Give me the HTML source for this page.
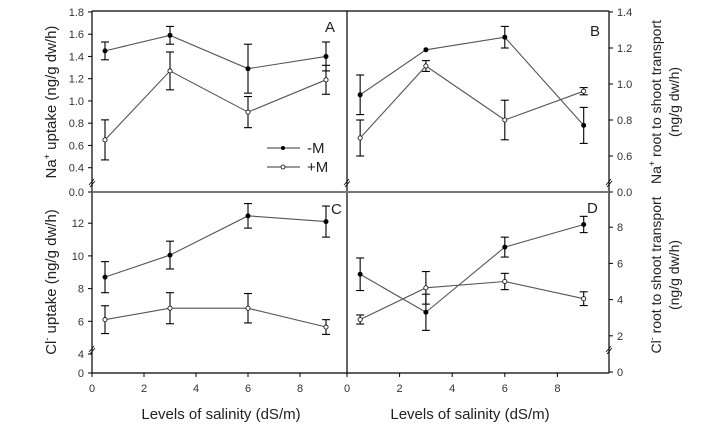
<!DOCTYPE html>
<html><head><meta charset="utf-8"><style>
html,body{margin:0;padding:0;background:#fff;}
svg{display:block;font-family:"Liberation Sans",Arial,sans-serif;}
</style></head><body>
<svg id="c" width="701" height="442" viewBox="0 0 701 442" xmlns="http://www.w3.org/2000/svg"></svg>
<script>
const salinity=[0.5,3,6,9];
const aMinus=[1.45,1.59,1.29,1.40], aMinusErr=[0.08,0.08,0.22,0.13];
const aPlus=[0.65,1.27,0.90,1.19], aPlusErr=[0.18,0.17,0.14,0.13];
const bMinus=[0.94,1.19,1.26,0.77], bMinusErr=[0.11,0,0.06,0.10];
const bPlus=[0.70,1.10,0.80,0.96], bPlusErr=[0.10,0.03,0.11,0.02];
const cMinus=[8.7,10.05,12.45,12.1], cMinusErr=[0.95,0.85,0.75,0.95];
const cPlus=[6.1,6.8,6.8,5.65], cPlusErr=[0.85,0.95,0.9,0.45];
const dMinus=[5.4,3.3,6.9,8.15], dMinusErr=[0.9,1.0,0.55,0.45];
const dPlus=[2.9,4.65,5.0,4.05], dPlusErr=[0.25,0.9,0.45,0.38];
const xTicks=[0,2,4,6,8];
const aTicks=[0.4,0.6,0.8,1.0,1.2,1.4,1.6,1.8];
const bTicks=[0.6,0.8,1.0,1.2,1.4];
const cTicks=[4,6,8,10,12];
const dTicks=[0,2,4,6,8];

const svg=document.getElementById('c');
const NS='http://www.w3.org/2000/svg';
function mk(tag,attrs,parent){const e=document.createElementNS(NS,tag);for(const k in attrs)e.setAttribute(k,attrs[k]);(parent||svg).appendChild(e);return e;}
function txt(s,attrs,parent){const e=mk('text',attrs,parent);e.textContent=s;return e;}

const xL=v=>92+v*26;
const xR=v=>347+v*26.3;
const yA=v=>167.7-(v-0.4)/0.2*22.25;
const yB=v=>156-(v-0.6)/0.2*36;
const yC=v=>354-(v-4)/2*32.7;
const yD=v=>372-v/2*36.2;

const fr=mk('g',{});


mk('line',{x1:92,y1:11,x2:609,y2:11,stroke:'#000','stroke-width':1.2},fr);
mk('line',{x1:92,y1:11,x2:92,y2:373,stroke:'#000','stroke-width':1.2},fr);
mk('line',{x1:609,y1:11,x2:609,y2:373,stroke:'#000','stroke-width':1.2},fr);
mk('line',{x1:347,y1:11,x2:347,y2:373,stroke:'#000','stroke-width':1.2},fr);
mk('line',{x1:92,y1:373,x2:609,y2:373,stroke:'#000','stroke-width':1.2},fr);
mk('line',{x1:92,y1:192,x2:609,y2:192,stroke:'#777','stroke-width':2},fr);
[[92,182],[347,182],[609,182],[92,349],[609,349]].forEach(p=>{
  mk('line',{x1:p[0]-3,y1:p[1]+3,x2:p[0]+2,y2:p[1]-3,stroke:'#000','stroke-width':0.8},fr);
  mk('line',{x1:p[0]-2,y1:p[1]+5,x2:p[0]+3,y2:p[1]-1,stroke:'#000','stroke-width':0.8},fr);
});

function yTicks(ticks,fn,side,dec,name,zeroY){
  const g=mk('g',{});
  
  
  const x=side==='L'?92:609;
  const all=ticks.map(t=>[t,fn(t)]);
  if(zeroY)all.push([0,zeroY]);
  all.forEach(([t,y])=>{
    mk('line',{x1:side==='L'?x-4:x,y1:y,x2:side==='L'?x:x+4,y2:y,stroke:'#000','stroke-width':1},g);
    txt(t.toFixed(dec),{x:side==='L'?x-8:x+8,y:y+4,'font-size':11,fill:'#333','text-anchor':side==='L'?'end':'start'},g);
  });
}
yTicks(aTicks,yA,'L',1,'y-axis-ticks-a',192);
yTicks(bTicks,yB,'R',1,'y-axis-ticks-b',192);
yTicks(cTicks,yC,'L',0,'y-axis-ticks-c',373);
yTicks(dTicks,yD,'R',0,'y-axis-ticks-d',null);

function xTickG(fn,name){
  const g=mk('g',{});
  
  
  xTicks.forEach(t=>{
    mk('line',{x1:fn(t),y1:373,x2:fn(t),y2:377,stroke:'#000','stroke-width':1},g);
    txt(String(t),{x:fn(t),y:392,'font-size':11,fill:'#333','text-anchor':'middle'},g);
  });
}
xTickG(xL,'x-axis-ticks-left');
xTickG(xR,'x-axis-ticks-right');

function series(xs,ys,errs,xf,yf,filled,name){
  const g=mk('g',{});
  
  
  mk('polyline',{points:xs.map((x,i)=>xf(x)+','+yf(ys[i])).join(' '),fill:'none',stroke:'#555','stroke-width':1.1},g);
  xs.forEach((x,i)=>{
    const cx=xf(x),e=errs[i];
    if(e>0){
      const y1=yf(ys[i]+e),y2=yf(ys[i]-e);
      mk('line',{x1:cx,y1:y1,x2:cx,y2:y2,stroke:'#000','stroke-width':1.1},g);
      mk('line',{x1:cx-4,y1:y1,x2:cx+4,y2:y1,stroke:'#000','stroke-width':1.1},g);
      mk('line',{x1:cx-4,y1:y2,x2:cx+4,y2:y2,stroke:'#000','stroke-width':1.1},g);
    }
    mk('circle',{cx:cx,cy:yf(ys[i]),r:2.1,fill:filled?'#000':'#fff',stroke:'#000','stroke-width':0.8},g);
  });
}
series(salinity,aMinus,aMinusErr,xL,yA,true,'series-a-minus-m');
series(salinity,aPlus,aPlusErr,xL,yA,false,'series-a-plus-m');
series(salinity,bMinus,bMinusErr,xR,yB,true,'series-b-minus-m');
series(salinity,bPlus,bPlusErr,xR,yB,false,'series-b-plus-m');
series(salinity,cMinus,cMinusErr,xL,yC,true,'series-c-minus-m');
series(salinity,cPlus,cPlusErr,xL,yC,false,'series-c-plus-m');
series(salinity,dMinus,dMinusErr,xR,yD,true,'series-d-minus-m');
series(salinity,dPlus,dPlusErr,xR,yD,false,'series-d-plus-m');
</script>
<div style="position:absolute;left:0;top:0;width:701px;height:442px;pointer-events:none;">
<svg width="701" height="442" style="position:absolute;left:0;top:0;font-family:'Liberation Sans',Arial,sans-serif;">
<g>
<line x1="267" y1="148" x2="300" y2="148" stroke="#333" stroke-width="1.1"/><circle cx="283" cy="148" r="2" fill="#000"/>
<text x="307" y="153" font-size="15" fill="#222">-M</text>
<line x1="267" y1="167" x2="300" y2="167" stroke="#333" stroke-width="1.1"/><circle cx="283" cy="167" r="2" fill="#fff" stroke="#000" stroke-width="0.8"/>
<text x="307" y="172" font-size="15" fill="#222">+M</text>
</g>
<text x="325" y="32" font-size="15" fill="#222">A</text>
<text x="590" y="36" font-size="15" fill="#222">B</text>
<text x="331" y="214" font-size="15" fill="#222">C</text>
<text x="587" y="213" font-size="15" fill="#222">D</text>
<text transform="translate(56,102) rotate(-90)" text-anchor="middle" font-size="15" fill="#222">Na<tspan dy="-6" font-size="9">+</tspan><tspan dy="6"> uptake (ng/g dw/h)</tspan></text>
<text transform="translate(56,282) rotate(-90)" text-anchor="middle" font-size="15" fill="#222">Cl<tspan dy="-6" font-size="9">-</tspan><tspan dy="6"> uptake (ng/g dw/h)</tspan></text>
<text transform="translate(661,102) rotate(-90)" text-anchor="middle" font-size="14" fill="#222">Na<tspan dy="-6" font-size="9">+</tspan><tspan dy="6"> root to shoot transport</tspan></text>
<text transform="translate(679,102) rotate(-90)" text-anchor="middle" font-size="14" fill="#222">(ng/g dw/h)</text>
<text transform="translate(661,275) rotate(-90)" text-anchor="middle" font-size="14" fill="#222">Cl<tspan dy="-6" font-size="9">-</tspan><tspan dy="6"> root to shoot transport</tspan></text>
<text transform="translate(679,275) rotate(-90)" text-anchor="middle" font-size="14" fill="#222">(ng/g dw/h)</text>
<text x="221" y="419" text-anchor="middle" font-size="15" fill="#222">Levels of salinity (dS/m)</text>
<text x="470" y="419" text-anchor="middle" font-size="15" fill="#222">Levels of salinity (dS/m)</text>
</svg></div>
</body></html>
